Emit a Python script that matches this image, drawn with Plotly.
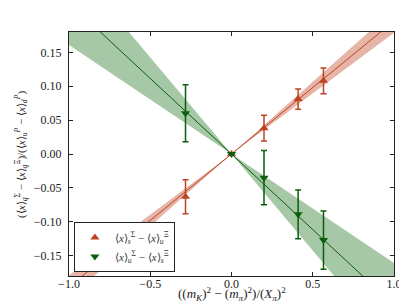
import numpy as np
import plotly.graph_objects as go

# data
x_s = [-0.283, 0.0, 0.20, 0.41, 0.566]
y_s = [-0.063, 0.0, 0.038, 0.081, 0.108]
e_s = [0.025, 0.0, 0.019, 0.015, 0.019]

x_u = [-0.283, 0.0, 0.20, 0.41, 0.566]
y_u = [0.060, 0.0, -0.035, -0.089, -0.127]
e_u = [0.042, 0.0, 0.040, 0.036, 0.043]

slope_s, slope_s_err = 0.196, 0.017
slope_u, slope_u_err = -0.223, 0.062

x_fit = np.array([-1.0, 0.0, 1.0])

red = "#bb4422"
red_band = "#e6b5a7"
green = "#0b5e0b"
green_band = "#a6c8a6"
font = "Liberation Serif"
txt = "#222222"

fig = go.Figure()

def band(slope, err, color):
    a = x_fit * (slope - err)
    b = x_fit * (slope + err)
    lo = np.minimum(a, b)
    hi = np.maximum(a, b)
    fig.add_trace(go.Scatter(x=x_fit, y=lo, mode="lines", line=dict(width=0),
                             showlegend=False, hoverinfo="skip"))
    fig.add_trace(go.Scatter(x=x_fit, y=hi, mode="lines", line=dict(width=0),
                             fill="tonexty", fillcolor=color,
                             showlegend=False, hoverinfo="skip"))

band(slope_u, slope_u_err, green_band)
band(slope_s, slope_s_err, red_band)

fig.add_trace(go.Scatter(x=x_fit, y=x_fit * slope_u, mode="lines",
                         line=dict(color=green, width=1), showlegend=False))
fig.add_trace(go.Scatter(x=x_fit, y=x_fit * slope_s, mode="lines",
                         line=dict(color=red, width=1), showlegend=False))

fig.add_trace(go.Scatter(
    x=x_s, y=y_s, mode="markers",
    marker=dict(symbol="triangle-up", size=8, color=red),
    error_y=dict(type="data", array=e_s, color=red, thickness=1.5, width=3),
    name="⟨<i>x</i>⟩<sub><i>s</i></sub><sup>Σ</sup> − ⟨<i>x</i>⟩<sub><i>u</i></sub><sup>Ξ</sup>"))
fig.add_trace(go.Scatter(
    x=x_u, y=y_u, mode="markers",
    marker=dict(symbol="triangle-down", size=8, color=green),
    error_y=dict(type="data", array=e_u, color=green, thickness=1.5, width=3),
    name="⟨<i>x</i>⟩<sub><i>u</i></sub><sup>Σ</sup> − ⟨<i>x</i>⟩<sub><i>s</i></sub><sup>Ξ</sup>"))

axis_common = dict(showgrid=False, zeroline=False, showline=True, mirror="ticks",
                   linecolor="#222222", linewidth=1.2, ticks="inside", ticklen=4,
                   tickcolor="#222222", tickfont=dict(family=font, size=12, color=txt))

fig.update_xaxes(range=[-1, 1], tickvals=[-1, -0.5, 0, 0.5, 1], tickformat=".1f",
                 ticklabelstandoff=-4, **axis_common)
fig.update_yaxes(range=[-0.18, 0.18], tickvals=[-0.15, -0.1, -0.05, 0, 0.05, 0.1, 0.15],
                 tickformat=".2f", ticklabelstandoff=4, **axis_common)

fig.add_annotation(
    text="((<i>m<sub>K</sub></i>)<sup>2</sup> − (<i>m<sub>π</sub></i>)<sup>2</sup>)/(<i>X<sub>π</sub></i>)<sup>2</sup>",
    xref="paper", yref="paper", x=0.5, y=-0.075, xanchor="center", yanchor="middle",
    showarrow=False, font=dict(family=font, size=13, color=txt))
fig.add_annotation(
    text="(⟨<i>x</i>⟩<sub><i>q</i></sub><sup>Σ</sup> − ⟨<i>x</i>⟩<sub><i>q</i></sub><sup>Ξ</sup>)/(⟨<i>x</i>⟩<sub><i>u</i></sub><sup><i>P</i></sup> − ⟨<i>x</i>⟩<sub><i>d</i></sub><sup><i>P</i></sup>)",
    xref="paper", yref="paper", x=-0.148, y=0.5, xanchor="center", yanchor="middle",
    textangle=-90, showarrow=False, font=dict(family=font, size=11, color=txt))

fig.update_layout(
    width=407, height=305,
    margin=dict(l=61, r=21, t=24, b=37),
    plot_bgcolor="white", paper_bgcolor="white",
    font=dict(family=font, size=12, color=txt),
    showlegend=True,
    legend=dict(x=0.015, y=0.016, xanchor="left", yanchor="bottom",
                traceorder="normal",
                bgcolor="white", bordercolor="#222222", borderwidth=1,
                font=dict(family=font, size=11, color="#333333"),
                tracegroupgap=2, itemwidth=30),
)

fig.write_html("out.html")
